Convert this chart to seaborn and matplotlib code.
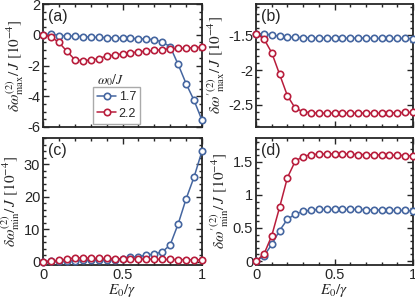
import numpy as np
import matplotlib
matplotlib.use("Agg")
import matplotlib.pyplot as plt
import seaborn as sns
from matplotlib.ticker import MultipleLocator
from matplotlib.lines import Line2D

# field strength E0/gamma
e0 = np.round(np.arange(0, 1.0001, 0.05), 2)

# (a) delta omega_max  [1e-4]
a_17 = [0, 0.05, -0.05, -0.07, -0.1, -0.12, -0.15, -0.17, -0.19, -0.2, -0.22,
        -0.24, -0.26, -0.28, -0.32, -0.47, -0.78, -1.93, -3.18, -4.27, -5.56]
a_22 = [0, -0.13, -0.5, -1.07, -1.62, -1.7, -1.64, -1.56, -1.38, -1.33, -1.24,
        -1.18, -1.11, -1.07, -1.02, -0.96, -0.91, -0.89, -0.87, -0.84, -0.8]

# (b) delta omega'_max  [1e-4]
b_17 = [-1.476, -1.48, -1.495, -1.515, -1.525, -1.53, -1.535, -1.535, -1.54, -1.54, -1.54,
        -1.54, -1.54, -1.54, -1.54, -1.545, -1.545, -1.545, -1.545, -1.545, -1.55]
b_22 = [-1.476, -1.55, -1.75, -2.06, -2.37, -2.55, -2.6, -2.615, -2.62, -2.62, -2.62,
        -2.62, -2.62, -2.62, -2.62, -2.62, -2.62, -2.615, -2.615, -2.61, -2.61]

# (c) delta omega_min  [1e-4]
c_17 = [0, 0.1, 0.2, 0.3, 0.35, 0.4, 0.45, 0.5, 0.55, 0.6, 0.9,
        1.4, 1.6, 2.0, 2.4, 3.0, 5.2, 11.6, 19.3, 26.0, 34.0]
c_22 = [0, 0.2, 0.4, 0.8, 1.2, 1.2, 1.1, 1.0, 1.0, 0.95, 0.9,
        0.85, 0.8, 0.8, 0.75, 0.7, 0.7, 0.65, 0.65, 0.6, 0.6]

# (d) delta omega'_min  [1e-4]
d_17 = [0, 0.075, 0.25, 0.46, 0.63, 0.71, 0.75, 0.77, 0.78, 0.78, 0.78,
        0.78, 0.78, 0.78, 0.775, 0.775, 0.77, 0.77, 0.765, 0.765, 0.76]
d_22 = [0, 0.1, 0.38, 0.81, 1.26, 1.51, 1.58, 1.61, 1.615, 1.62, 1.62,
        1.62, 1.615, 1.61, 1.61, 1.605, 1.605, 1.6, 1.6, 1.595, 1.59]

omega0 = ["1.7", "2.2"]
xticks = [0, 0.5, 1]
yticks_a = [-6, -4, -2, 0, 2]
yticks_b = [-2.5, -2, -1.5]
yticks_c = [0, 10, 20, 30]
yticks_d = [0, 0.5, 1, 1.5]

blue = "#4566a0"
red = "#b81d3c"

sns.set_style("ticks")
plt.rcParams["font.family"] = ["Liberation Sans", "DejaVu Sans"]
plt.rcParams["mathtext.fontset"] = "stix"
plt.rcParams["font.size"] = 10.5

fig = plt.figure(figsize=(4.15, 2.98), dpi=100)
W, H = 415, 298


def box(l, r, t, b):
    return [l / W, 1 - b / H, (r - l) / W, (b - t) / H]


ax_a = fig.add_axes(box(43, 202, 4, 127))
ax_b = fig.add_axes(box(256, 413, 4, 127))
ax_c = fig.add_axes(box(43, 202, 138, 265))
ax_d = fig.add_axes(box(256, 413, 138, 265))

panels = [
    (ax_a, a_17, a_22, "(a)", r"$\delta\omega^{(2)}_{\rm max}/\,J\ [10^{-4}]$", (-6, 2), yticks_a, 0.5),
    (ax_b, b_17, b_22, "(b)", r"$\delta\omega'^{(2)}_{\rm max}/\,J\ [10^{-4}]$", (-2.82, -1.05), yticks_b, 0.1),
    (ax_c, c_17, c_22, "(c)", r"$\delta\omega^{(2)}_{\rm min}/\,J\ [10^{-4}]$", (-1, 38), yticks_c, 2),
    (ax_d, d_17, d_22, "(d)", r"$\delta\omega'^{(2)}_{\rm min}/\,J\ [10^{-4}]$", (-0.06, 1.86), yticks_d, 0.1),
]

for ax, y1, y2, tag, ylab, ylim, yt, minor in panels:
    for y, col in [(y1, blue), (y2, red)]:
        sns.lineplot(x=e0, y=y, ax=ax, color=col, lw=1.1, marker="o", ms=4.6,
                     mfc="white", mec=col, mew=1.2, clip_on=False, zorder=3)
    ax.set_xlim(0, 1)
    ax.set_ylim(*ylim)
    ax.set_xticks(xticks)
    ax.set_xticklabels([f"{v:g}" for v in xticks])
    ax.xaxis.set_minor_locator(MultipleLocator(0.1))
    ax.set_yticks(yt)
    ax.set_yticklabels([f"{v:g}" for v in yt])
    ax.yaxis.set_minor_locator(MultipleLocator(minor))
    ax.tick_params(which="both", direction="in", top=True, right=True,
                   width=1.0, labelsize=10.5, pad=2)
    ax.tick_params(which="major", length=4)
    ax.tick_params(which="minor", length=2.5)
    for s in ax.spines.values():
        s.set_linewidth(1.3)
    ax.set_ylabel(ylab, fontsize=11, labelpad=1)
    ax.text(0.03, 0.96, tag, transform=ax.transAxes, ha="left", va="top", fontsize=11.5)

for ax in (ax_a, ax_b):
    ax.set_xticklabels([])
for ax in (ax_c, ax_d):
    ax.set_xlabel(r"$E_0/\gamma$", fontsize=11, labelpad=0)

handles = [Line2D([], [], color=c, lw=1.1, marker="o", ms=4.6, mfc="white", mec=c, mew=1.2)
           for c in (blue, red)]
leg = ax_a.legend(handles, omega0, loc="upper left",
                  bbox_to_anchor=(93 / W, 1 - 87 / H), bbox_transform=fig.transFigure,
                  fontsize=9, handlelength=1.5, handletextpad=0.2, borderpad=0.35,
                  labelspacing=0.35, fancybox=False, framealpha=1, borderaxespad=0)
leg.get_frame().set_edgecolor("#aaaaaa")
leg.get_frame().set_linewidth(1.0)
fig.text(111 / W, 1 - 80 / H, r"$\omega_0/J$", ha="center", va="center", fontsize=10)

fig.savefig("out.png", dpi=100)
